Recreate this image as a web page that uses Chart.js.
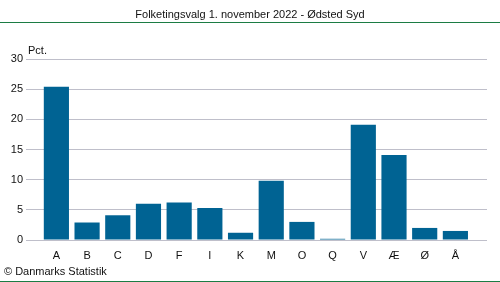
<!DOCTYPE html>
<html>
<head>
<meta charset="utf-8">
<script src="https://cdn.jsdelivr.net/npm/chart.js@4/dist/chart.umd.min.js"></script>
<style>
  body { margin: 0; background: #fff; }
  #wrap { position: relative; width: 500px; height: 282px; overflow: hidden; font-family: "Liberation Sans", Arial, sans-serif; }
  #title { position: absolute; left: 0; top: 8px; width: 500px; text-align: center; font-size: 11px; color: #111; }
  .rule { position: absolute; left: 0; width: 500px; height: 1px; background: #1c7c44; }
  #unit { position: absolute; left: 28px; top: 44px; font-size: 11px; color: #111; }
  #credit { position: absolute; left: 4px; top: 265px; font-size: 11px; color: #111; }
  #chart { position: absolute; left: 0; top: 0; }
</style>
</head>
<body>
<div id="wrap">
  <canvas id="chart" width="500" height="282"></canvas>
  <div id="title">Folketingsvalg 1. november 2022 - Ødsted Syd</div>
  <div class="rule" style="top:22px"></div>
  <div id="unit">Pct.</div>
  <div id="credit">© Danmarks Statistik</div>
  <div class="rule" style="top:281px"></div>
</div>
<script>
// party letters and vote share (pct.)
const parties = ['A', 'B', 'C', 'D', 'F', 'I', 'K', 'M', 'O', 'Q', 'V', 'Æ', 'Ø', 'Å'];
const shares = [25.4, 2.9, 4.1, 6.0, 6.2, 5.3, 1.2, 9.8, 3.0, 0.2, 19.1, 14.1, 2.0, 1.5];
const yTicks = [0, 5, 10, 15, 20, 25, 30];

const barColor = '#006393';
const gridColor = '#bfbfca';

const points = shares.map((v, i) => ({ x: i, y: v }));

new Chart(document.getElementById('chart'), {
    type: 'bar',
    data: {
        datasets: [{
            data: points,
            backgroundColor: barColor,
            categoryPercentage: 1,
            barPercentage: 0.82
        }]
    },
    options: {
        responsive: false,
        animation: false,
        layout: { padding: { top: 59, right: 13, bottom: 20, left: 0 } },
        plugins: { legend: { display: false }, tooltip: { enabled: false } },
        scales: {
            x: {
                type: 'linear',
                offset: false,
                min: -0.99,
                max: 14.03,
                grid: { display: false, drawTicks: false },
                border: { display: false },
                afterFit: s => { s.height = 22; },
                afterBuildTicks: s => { s.ticks = parties.map((p, i) => ({ value: i })); },
                ticks: {
                    autoSkip: false,
                    maxRotation: 0,
                    padding: 9,
                    color: '#111',
                    font: { family: '"Liberation Sans", Arial, sans-serif', size: 11 },
                    callback: v => parties[v] ?? ''
                }
            },
            y: {
                min: 0,
                max: 30,
                grid: { color: gridColor, lineWidth: 1, drawTicks: false },
                border: { display: false },
                afterFit: s => { s.width = 26; },
                afterBuildTicks: s => { s.ticks = yTicks.map(v => ({ value: v })); },
                ticks: {
                    padding: 3,
                    color: '#111',
                    font: { family: '"Liberation Sans", Arial, sans-serif', size: 11 }
                }
            }
        }
    }
});
</script>
</body>
</html>
